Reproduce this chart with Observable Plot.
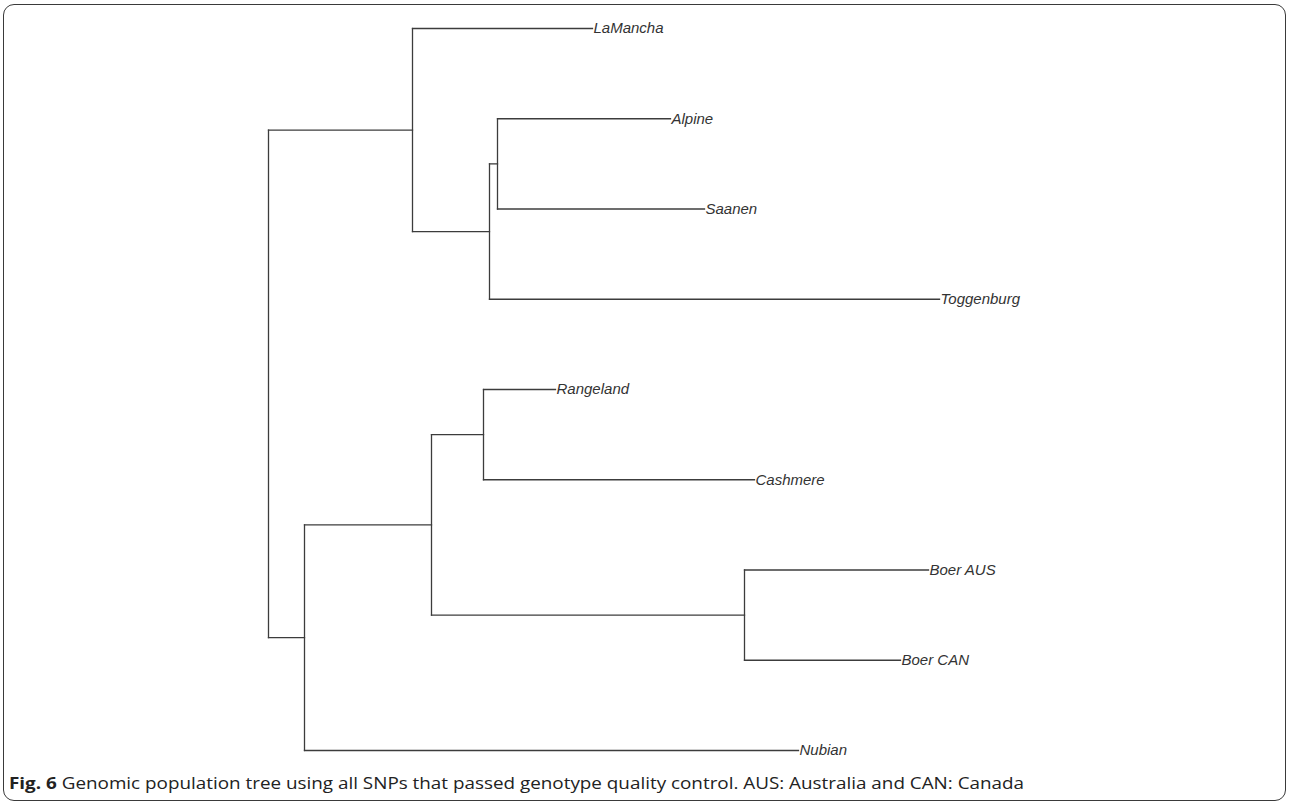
<!DOCTYPE html>
<html>
<head>
<meta charset="utf-8">
<script src="https://cdn.jsdelivr.net/npm/d3@7"></script>
<script src="https://cdn.jsdelivr.net/npm/@observablehq/plot@0.6"></script>
<style>
  html, body { margin: 0; padding: 0; background: #fff; }
  #frame {
    position: absolute; left: 3px; top: 4px; width: 1283px; height: 797px;
    border: 1.5px solid #3a3a3a; border-radius: 11px; box-sizing: border-box;
  }
  #chart { position: absolute; left: 0; top: 0; }
  #caption {
    position: absolute; left: 9px; top: 771px; white-space: nowrap;
    font-family: "Open Sans", "Noto Sans", sans-serif; font-size: 16.4px; color: #222;
    transform: scaleX(1.15); transform-origin: 0 0;
  }
  #caption b { font-weight: 700; }
</style>
</head>
<body>
<div id="frame"></div>
<div id="chart"></div>
<div id="caption"><b>Fig. 6</b> Genomic population tree using all SNPs that passed genotype quality control. AUS: Australia and CAN: Canada</div>
<script>
// Tree edges (parent -> child) with branch lengths (arbitrary drift units)
const edgeParent = ["root", "U", "U", "N1", "N2", "N2", "N1", "root", "L", "N3", "N4", "N4", "N3", "N5", "N5", "L"];
const edgeChild  = ["U", "LaMancha", "N1", "N2", "Alpine", "Saanen", "Toggenburg", "L", "N3", "N4", "Rangeland", "Cashmere", "N5", "Boer AUS", "Boer CAN", "Nubian"];
const edgeLength = [0.144, 0.180, 0.077, 0.008, 0.173, 0.207, 0.450, 0.036, 0.127, 0.052, 0.072, 0.271, 0.313, 0.184, 0.156, 0.494];

// Build hierarchy
const kids = {};
edgeParent.forEach((p, i) => { (kids[p] = kids[p] || []).push({name: edgeChild[i], len: edgeLength[i]}); });
function build(name, len) {
  return {name, len, children: (kids[name] || []).map(c => build(c.name, c.len))};
}
const root = d3.hierarchy(build("root", 0));
root.eachBefore(n => { n.x = n.parent ? n.parent.x + n.data.len : 0; });
const leaves = root.leaves();
leaves.forEach((l, i) => { l.y = i; });
root.eachAfter(n => { if (n.children) n.y = d3.mean(n.children, c => c.y); });

const horiz = root.descendants().filter(n => n.parent).map(n => ({x1: n.parent.x, x2: n.x, y1: n.y, y2: n.y}));
const vert = root.descendants().filter(n => n.children).map(n => ({x1: n.x, x2: n.x, y1: d3.min(n.children, c => c.y), y2: d3.max(n.children, c => c.y)}));
const segs = horiz.concat(vert);
const tips = leaves.map(l => ({name: l.data.name, x: l.x, y: l.y}));

const chart = Plot.plot({
  width: 1290,
  height: 770,
  marginLeft: 268,
  marginRight: 351,
  marginTop: 28,
  marginBottom: 20,
  x: {domain: [0, d3.max(tips, d => d.x)], axis: null},
  y: {domain: [0, leaves.length - 1], reverse: true, axis: null},
  marks: [
    Plot.link(segs, {x1: "x1", y1: "y1", x2: "x2", y2: "y2", stroke: "#3c3c3c", strokeWidth: 1.3, strokeLinecap: "square"}),
    Plot.text(tips, {x: "x", y: "y", text: "name", textAnchor: "start", dx: 1, fill: "#333",
      fontSize: 15, fontStyle: "italic", fontFamily: "Liberation Sans, Arial, sans-serif"})
  ]
});
document.getElementById("chart").appendChild(chart);
</script>
</body>
</html>
